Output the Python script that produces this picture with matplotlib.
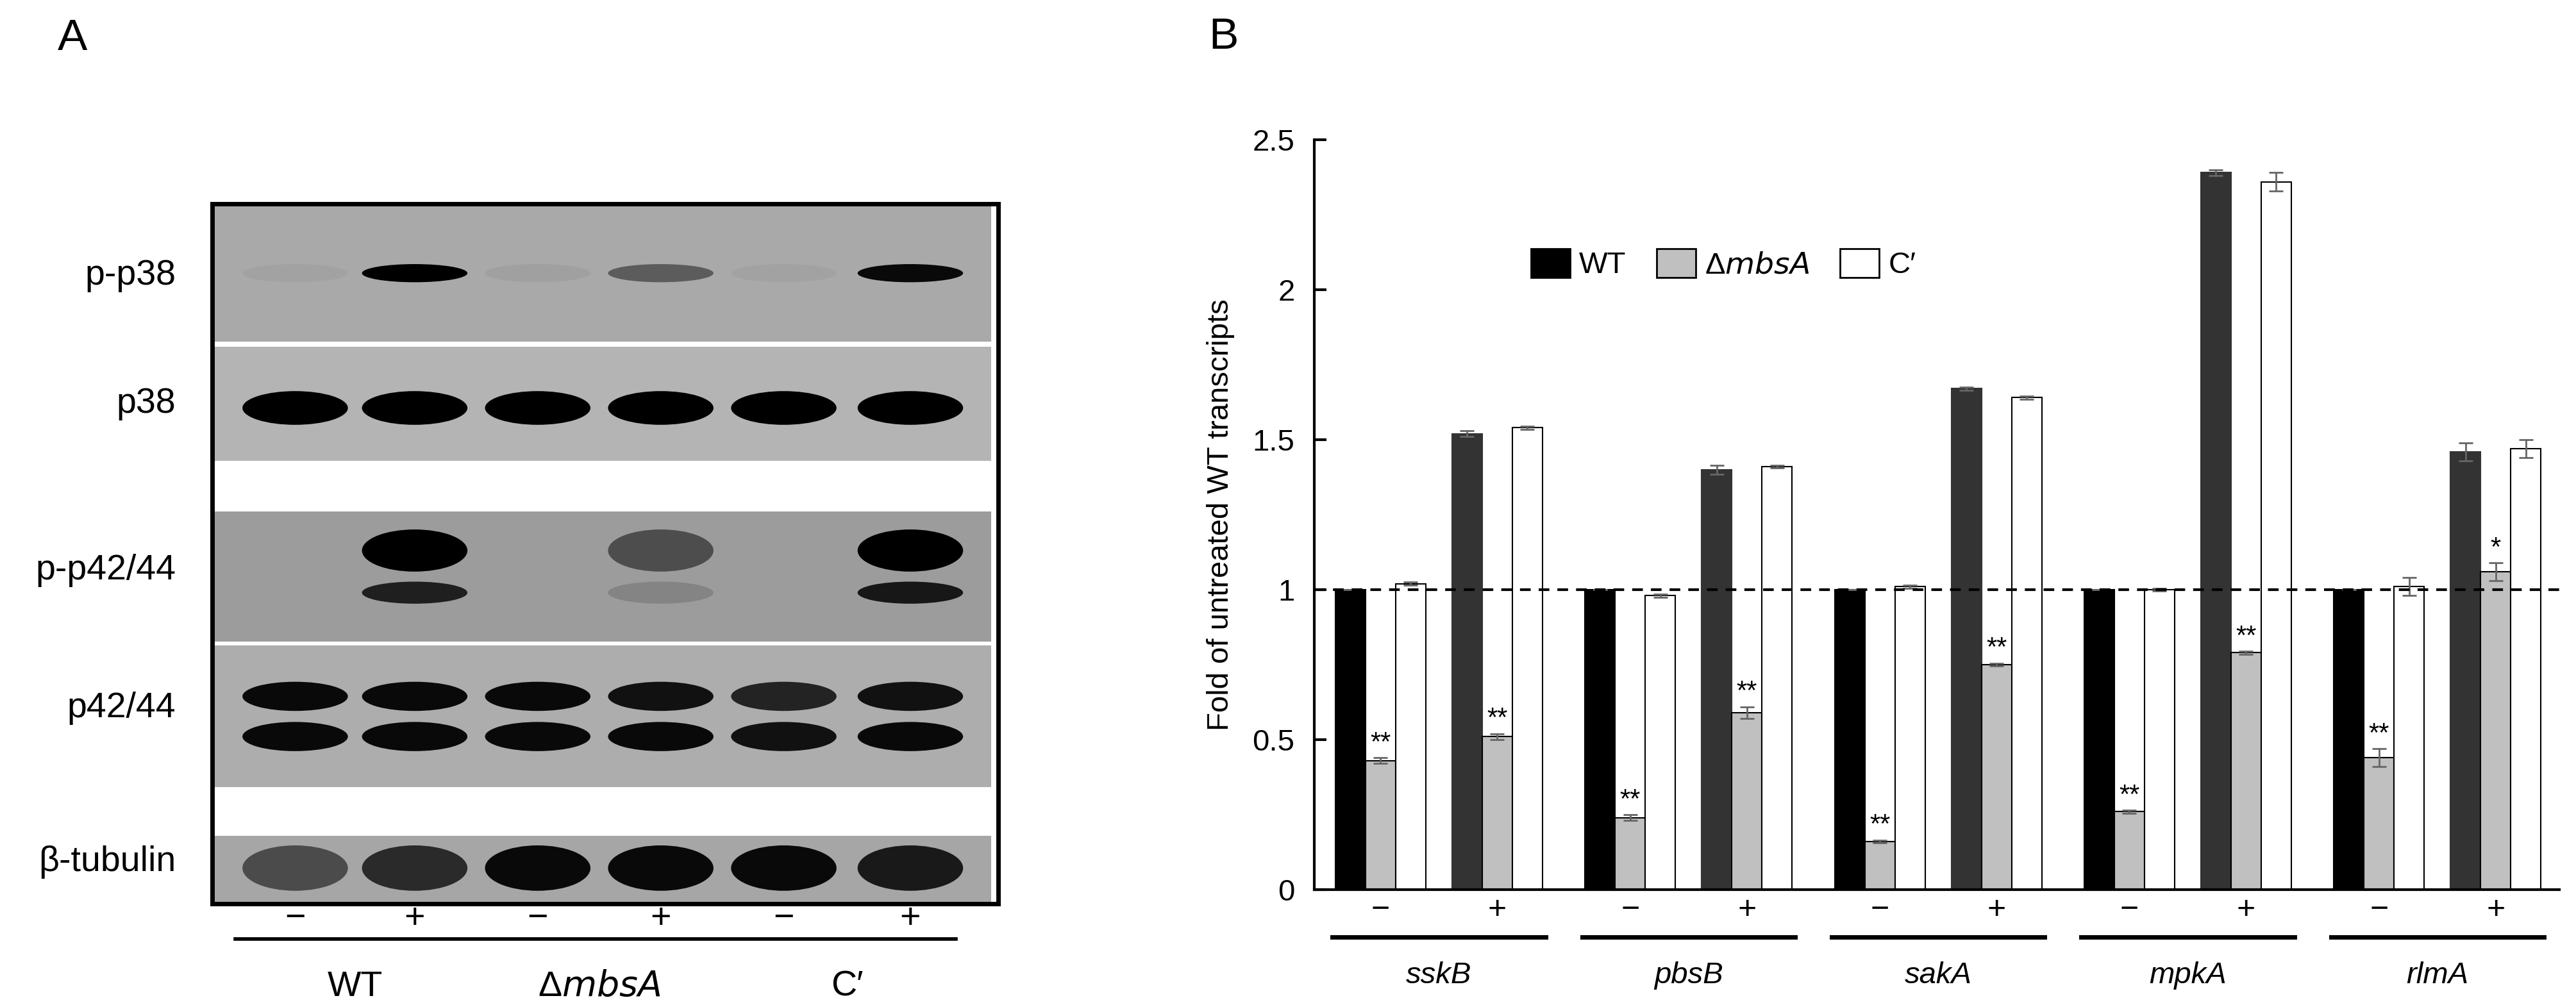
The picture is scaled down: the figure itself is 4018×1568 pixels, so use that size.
import matplotlib
matplotlib.use("Agg")
import matplotlib.pyplot as plt
import numpy as np
from matplotlib.patches import Ellipse, Rectangle
from matplotlib.transforms import blended_transform_factory

plt.rcParams['font.family'] = ['Liberation Sans', 'DejaVu Sans']

# ---------------- data ----------------
genes = ["sskB", "pbsB", "sakA", "mpkA", "rlmA"]
treat = ["\u2212", "+"]
wt_minus = [1.00, 1.00, 1.00, 1.00, 1.00]
wt_plus = [1.52, 1.40, 1.67, 2.39, 1.46]
mbs_minus = [0.43, 0.24, 0.16, 0.26, 0.44]
mbs_plus = [0.51, 0.59, 0.75, 0.79, 1.06]
c_minus = [1.02, 0.98, 1.01, 1.00, 1.01]
c_plus = [1.54, 1.41, 1.64, 2.36, 1.47]
wt_minus_err = [0.0, 0.0, 0.0, 0.0, 0.0]
wt_plus_err = [0.01, 0.015, 0.005, 0.01, 0.03]
mbs_minus_err = [0.01, 0.01, 0.005, 0.005, 0.03]
mbs_plus_err = [0.01, 0.02, 0.005, 0.005, 0.03]
c_minus_err = [0.005, 0.005, 0.005, 0.005, 0.03]
c_plus_err = [0.005, 0.005, 0.005, 0.03, 0.03]
sig_minus = ["**", "**", "**", "**", "**"]
sig_plus = ["**", "**", "**", "**", "*"]
legend_labels = ["WT", "\u0394$\\it{mbsA}$", "C\u2032"]

blot_rows = ["p-p38", "p38", "p-p42/44", "p42/44", "\u03b2-tubulin"]
strains = ["WT", "\u0394$\\it{mbsA}$", "C\u2032"]
lane_treat = ["\u2212", "+", "\u2212", "+", "\u2212", "+"]
# band intensities per lane (0..1)
band_pp38 = [0.04, 1.0, 0.05, 0.45, 0.04, 0.95]
band_p38 = [1.0, 1.0, 1.0, 1.0, 1.0, 1.0]
band_pp42_top = [0.0, 1.0, 0.0, 0.5, 0.0, 1.0]
band_pp42_bot = [0.0, 0.8, 0.0, 0.15, 0.0, 0.85]
band_p42_top = [0.95, 0.95, 0.95, 0.9, 0.8, 0.9]
band_p42_bot = [0.95, 0.95, 0.95, 0.95, 0.9, 0.95]
band_tub = [0.55, 0.75, 0.95, 0.95, 0.95, 0.85]

W, H = 4018, 1568
fig = plt.figure(figsize=(W / 100, H / 100), dpi=100)

def fx(px): return px / W
def fy(py): return 1 - py / H

# ---------------- panel A ----------------
axA = fig.add_axes([fx(331), fy(1410), fx(1557 - 331), (1410 - 318) / H])
axA.set_xlim(302, 1420)
axA.set_ylim(1395, 315)
axA.set_xticks([]); axA.set_yticks([])
for s in axA.spines.values():
    s.set_linewidth(5)
lanes = [420, 590, 765, 940, 1115, 1295]
strips = [(315, 528, "#a9a9a9"), (536, 712, "#b4b4b4"), (790, 990, "#9c9c9c"),
          (996, 1215, "#adadad"), (1290, 1395, "#a6a6a6")]
for y0, y1, c in strips:
    axA.add_patch(Rectangle((302, y0), 1108, y1 - y0, color=c, lw=0))
bands = [(band_pp38, 422, 28), (band_p38, 630, 52), (band_pp42_top, 850, 65),
         (band_pp42_bot, 915, 34), (band_p42_top, 1075, 45), (band_p42_bot, 1137, 45),
         (band_tub, 1340, 70)]
for vals, yc, h in bands:
    for x, v in zip(lanes, vals):
        if v > 0:
            axA.add_patch(Ellipse((x, yc), 150, h, color="black", alpha=v, lw=0))
row_y = [430, 630, 890, 1105, 1345]
for lab, y in zip(blot_rows, row_y):
    fig.text(fx(274), fy(y), lab, ha="right", va="center", fontsize=40)
for x, t in zip(lanes, lane_treat):
    fig.text(fx(x / 0.912), fy(1434), t, ha="center", va="center", fontsize=40)
fig.add_artist(plt.Line2D([fx(367), fx(1491)], [fy(1465)] * 2, color="black", lw=4))
for i, s in enumerate(strains):
    xc = (lanes[2 * i] + lanes[2 * i + 1]) / 2 / 0.912
    fig.text(fx(xc), fy(1540), s, ha="center", va="center", fontsize=40)
fig.text(fx(90), fy(60), "A", ha="left", va="center", fontsize=50)

# ---------------- panel B ----------------
axB = fig.add_axes([fx(2050), fy(1388), fx(3992 - 2050), (1388 - 218) / H])
bw = 1.0
gpitch, tpitch = 8.28, 3.87
xm = np.arange(len(genes)) * gpitch
xp = xm + tpitch
err_kw = dict(ecolor="#666666", capsize=8, elinewidth=2, capthick=2)
axB.bar(xm - bw, wt_minus, bw, yerr=wt_minus_err, color="black", edgecolor="black", lw=1.5, error_kw=err_kw)
axB.bar(xm, mbs_minus, bw, yerr=mbs_minus_err, color="#c0c0c0", edgecolor="black", lw=1.5, error_kw=err_kw)
axB.bar(xm + bw, c_minus, bw, yerr=c_minus_err, color="white", edgecolor="black", lw=1.5, error_kw=err_kw)
axB.bar(xp - bw, wt_plus, bw, yerr=wt_plus_err, color="#333333", edgecolor="#333333", lw=1.5, error_kw=err_kw)
axB.bar(xp, mbs_plus, bw, yerr=mbs_plus_err, color="#c0c0c0", edgecolor="black", lw=1.5, error_kw=err_kw)
axB.bar(xp + bw, c_plus, bw, yerr=c_plus_err, color="white", edgecolor="black", lw=1.5, error_kw=err_kw)
for x, v, e, s in zip(xm, mbs_minus, mbs_minus_err, sig_minus):
    axB.text(x, v + e + 0.005, s, ha="center", va="bottom", fontsize=30)
for x, v, e, s in zip(xp, mbs_plus, mbs_plus_err, sig_plus):
    axB.text(x, v + e + 0.005, s, ha="center", va="bottom", fontsize=30)
axB.axhline(1.0, color="black", lw=3, ls=(0, (4, 3)), zorder=5)
axB.set_xlim(-2.2, 39.1)
axB.set_ylim(0, 2.5)
axB.set_yticks([0, 0.5, 1, 1.5, 2, 2.5])
axB.set_yticklabels(["0", "0.5", "1", "1.5", "2", "2.5"])
axB.tick_params(axis="y", direction="in", length=14, width=3, labelsize=34, pad=22)
axB.set_xticks([])
for s in ["top", "right"]:
    axB.spines[s].set_visible(False)
axB.spines["left"].set_linewidth(3)
axB.spines["bottom"].set_linewidth(3)
axB.set_ylabel("Fold of untreated WT transcripts", fontsize=34, labelpad=20)
tr = blended_transform_factory(axB.transData, fig.transFigure)
for i, g in enumerate(genes):
    axB.text(xm[i], fy(1420), treat[0], transform=tr, ha="center", va="center", fontsize=36)
    axB.text(xp[i], fy(1420), treat[1], transform=tr, ha="center", va="center", fontsize=36)
    axB.plot([xm[i] - 1.6, xp[i] + 1.6], [fy(1462)] * 2, transform=tr, color="black", lw=5, clip_on=False)
    axB.text((xm[i] + xp[i]) / 2, fy(1522), g, transform=tr, ha="center", va="center",
             fontsize=34, style="italic")
# legend
handles = [Rectangle((0, 0), 1, 1, fc=c, ec="black", lw=2) for c in ["black", "#c0c0c0", "white"]]
axB.legend(handles, legend_labels, loc="center left", bbox_to_anchor=(fx(2345), fy(412)),
           bbox_transform=fig.transFigure, ncol=3, frameon=False, fontsize=34,
           handlelength=1.3, handleheight=1.1, handletextpad=0.3, columnspacing=1.0)
fig.text(fx(1885), fy(58), "B", ha="left", va="center", fontsize=50)

fig.savefig("out.png", dpi=100)
